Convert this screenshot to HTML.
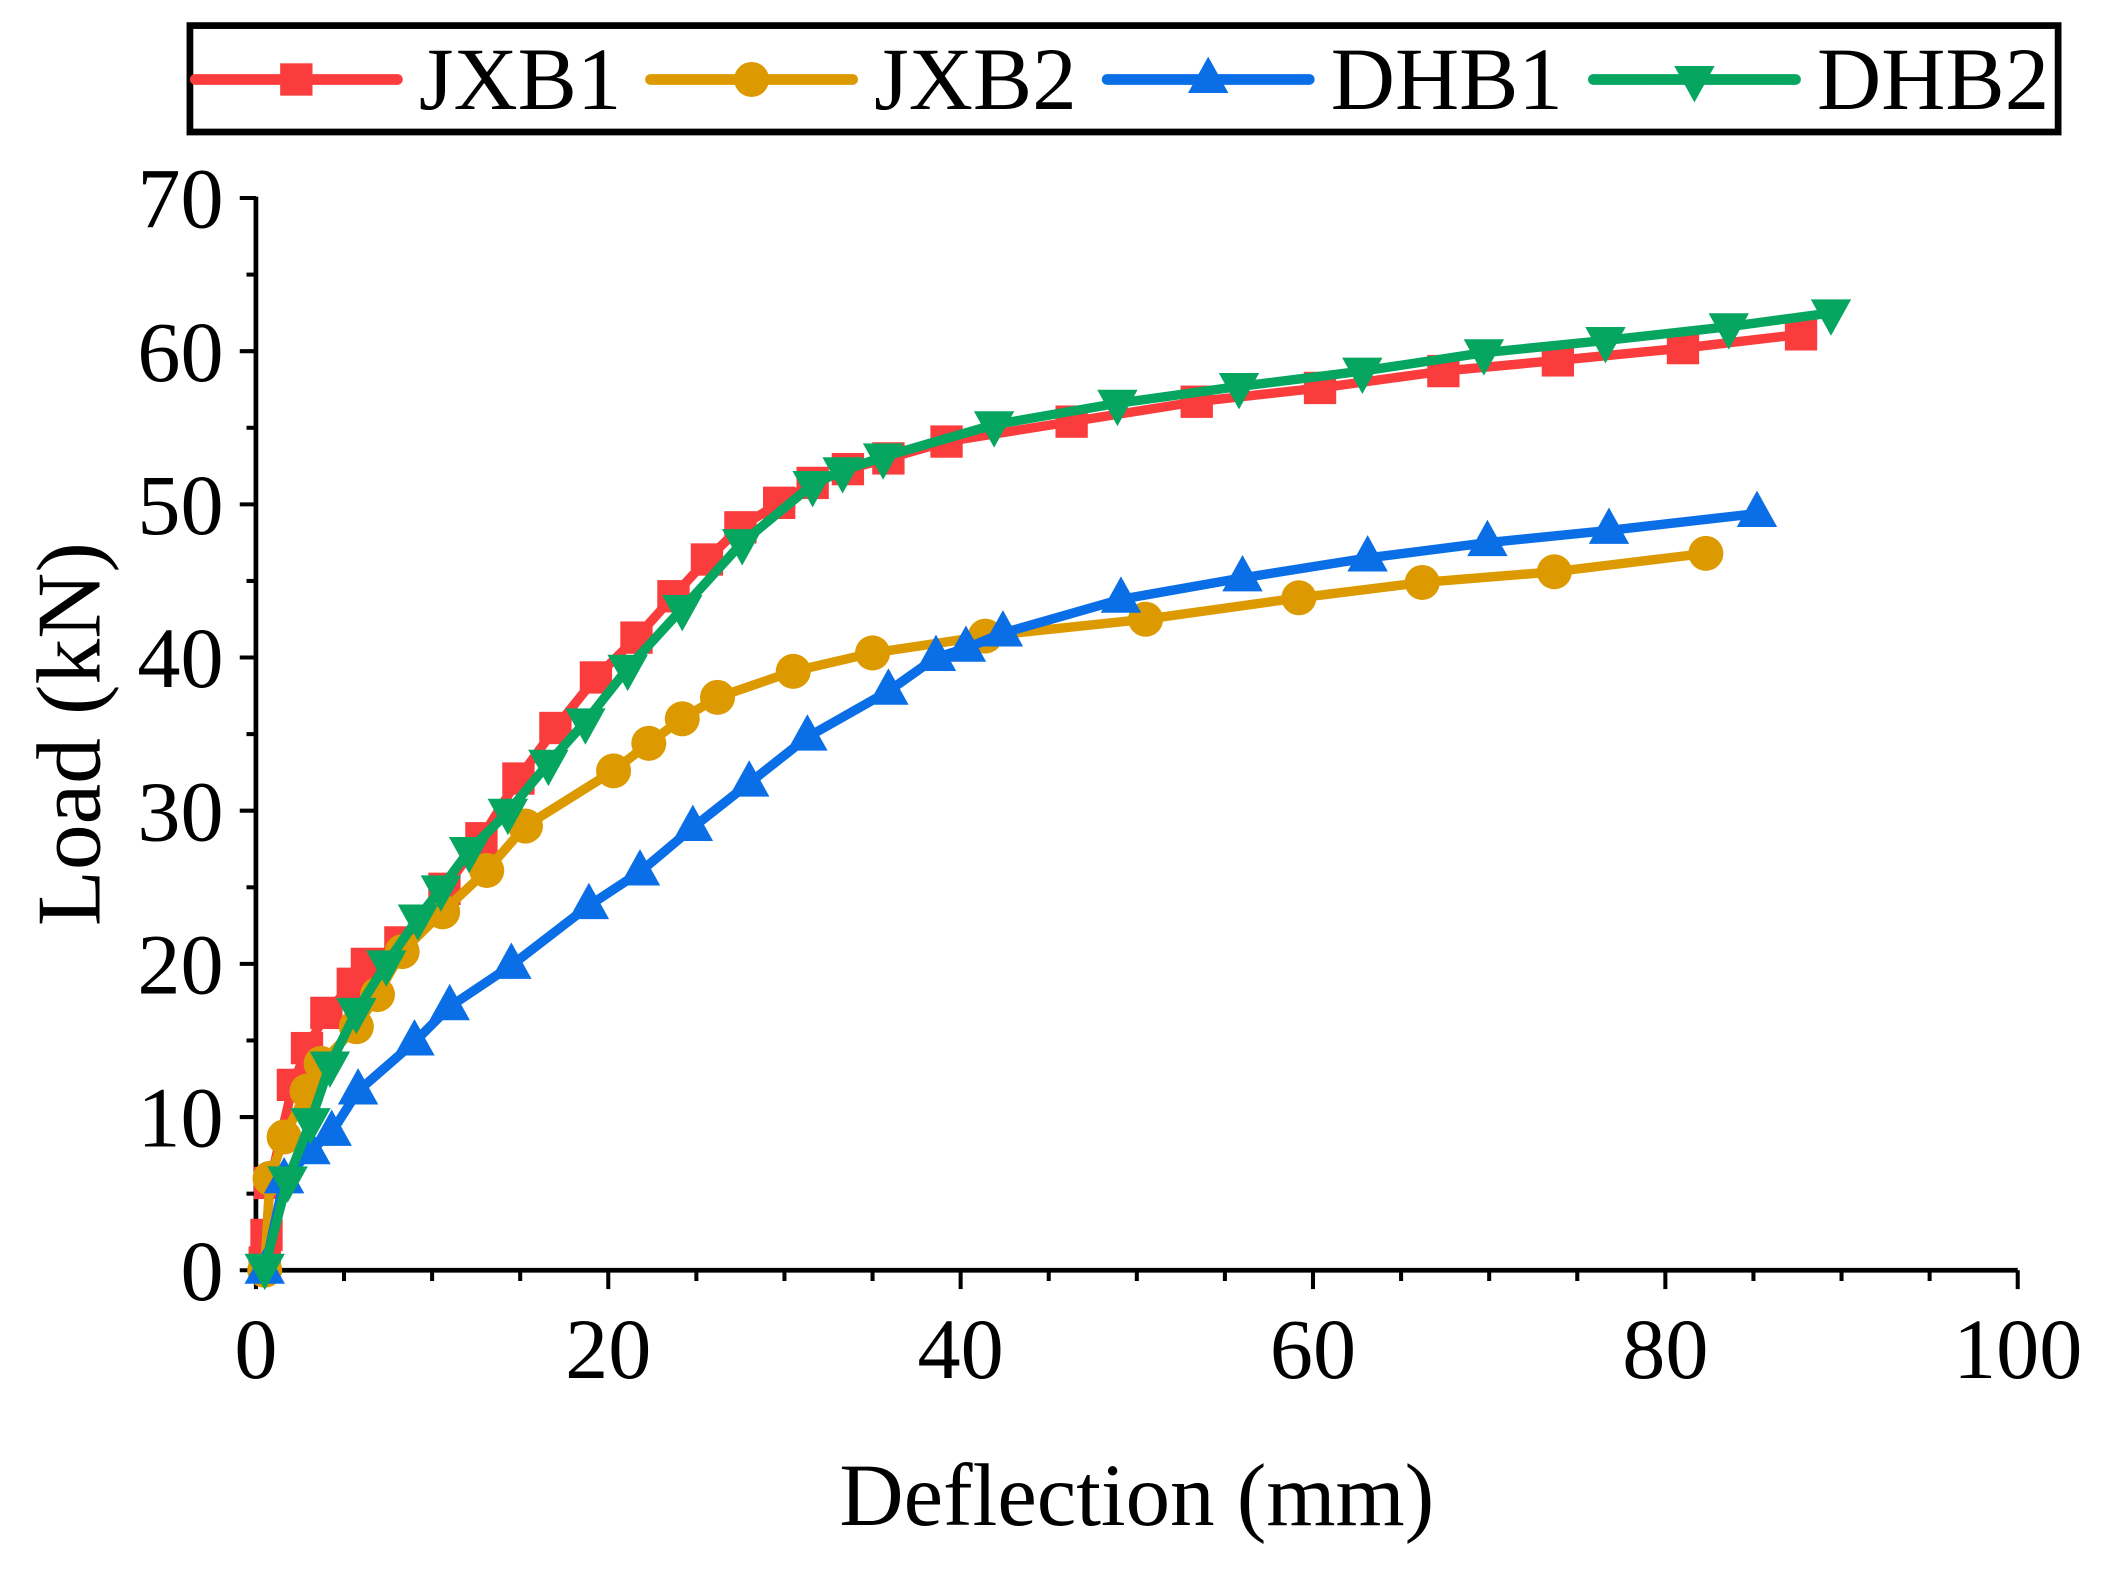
<!DOCTYPE html>
<html><head><meta charset="utf-8"><style>
html,body{margin:0;padding:0;background:#fff;}
svg{display:block;}
text{font-family:"Liberation Serif",serif;fill:#000;}
</style></head><body>
<svg id="chart" width="2112" height="1576" viewBox="0 0 1568 1170" preserveAspectRatio="none" xmlns="http://www.w3.org/2000/svg">
<g id="axes"></g>
<g id="series"></g>
<g id="legend">
  <rect x="141" y="19" width="1387" height="79" fill="#fff" stroke="#000" stroke-width="5"/>
</g>
<text x="844" y="1132" font-size="66" text-anchor="middle">Deflection (mm)</text>
<text transform="translate(74,545) rotate(-90)" font-size="68" text-anchor="middle">Load (kN)</text>
</svg>
<script>
const xTicks = [0,20,40,60,80,100];
const yTicks = [0,10,20,30,40,50,60,70];
const seriesNames = ["JXB1","JXB2","DHB1","DHB2"];
const jxb1X = [0.5,0.6,0.8,2.1,2.9,4.0,5.5,6.3,8.2,10.7,12.8,14.9,17.0,19.3,21.6,23.7,25.6,27.5,29.7,31.6,33.6,35.9,39.2,46.3,53.4,60.4,67.4,73.9,81.0,87.7];
const jxb1Y = [0.5,2.3,5.7,12.1,14.5,16.8,18.7,20.0,21.4,24.9,28.2,32.1,35.4,38.7,41.3,44.0,46.4,48.5,50.1,51.4,52.3,53.0,54.1,55.4,56.7,57.6,58.7,59.4,60.2,61.1];
const jxb2X = [0.5,0.8,1.6,2.9,3.7,5.7,6.9,8.3,10.6,13.1,15.3,20.3,22.3,24.2,26.2,30.5,35.0,41.4,50.5,59.2,66.2,73.7,82.3];
const jxb2Y = [0.0,6.0,8.7,11.7,13.5,15.9,18.0,20.8,23.4,26.1,29.0,32.6,34.4,36.0,37.4,39.1,40.3,41.4,42.5,43.9,44.9,45.6,46.8];
const dhb1X = [0.5,1.6,3.1,4.3,5.8,9.0,11.0,14.5,18.9,21.8,24.8,28.0,31.3,35.9,38.6,40.3,42.4,49.1,56.0,63.1,69.9,76.8,85.2];
const dhb1Y = [0.0,5.9,7.8,9.0,11.7,14.9,17.2,19.9,23.8,26.0,28.9,31.8,34.8,37.8,40.0,40.6,41.6,43.8,45.2,46.5,47.5,48.3,49.4];
const dhb2X = [0.5,1.8,3.1,4.2,5.7,7.4,9.2,10.5,12.1,14.3,16.6,18.7,21.1,24.2,27.6,31.6,33.3,35.6,41.9,48.9,55.8,62.8,69.7,76.6,83.6,89.4];
const dhb2Y = [0.2,5.9,9.7,13.4,16.9,20.0,23.0,24.9,27.4,29.9,33.1,35.8,39.3,43.2,47.5,51.3,52.2,53.1,55.2,56.6,57.7,58.7,59.9,60.7,61.6,62.5];

const NS="http://www.w3.org/2000/svg";
const X0=190,X1=1498,Y0=943,Y1=147;
function sx(v){return X0+(v-0)/(100-0)*(X1-X0);}
function sy(v){return Y0-(v-0)/(70-0)*(Y0-Y1);}
function mk(tag,attrs,parent){const e=document.createElementNS(NS,tag);for(const k in attrs)e.setAttribute(k,attrs[k]);parent.appendChild(e);return e;}
const axes=document.getElementById('axes');
const ser=document.getElementById('series');

const yAxis=mk('line',{x1:X0,y1:Y0,x2:X0,y2:Y1-1,stroke:'#000','stroke-width':3.5},axes);


const xAxis=mk('line',{x1:X0-2,y1:Y0,x2:X1,y2:Y0,stroke:'#000','stroke-width':3.5},axes);



yTicks.forEach((v,i)=>{
  const y=sy(v);
  const t=mk('line',{x1:X0-12,y1:y,x2:X0,y2:y,stroke:'#000','stroke-width':3},axes);
  
  
  const l=mk('text',{x:X0-24,y:y+22,'font-size':64,'text-anchor':'end'},axes);
  l.textContent=v;
  
  
  if(i<yTicks.length-1){
    const m=mk('line',{x1:X0-7,y1:sy(v+5),x2:X0,y2:sy(v+5),stroke:'#000','stroke-width':3},axes);
    
    
  }
});
xTicks.forEach((v,i)=>{
  const x=sx(v);
  const t=mk('line',{x1:x,y1:Y0,x2:x,y2:Y0+14,stroke:'#000','stroke-width':3},axes);
  
  
  const l=mk('text',{x:x,y:Y0+80,'font-size':64,'text-anchor':'middle'},axes);
  l.textContent=v;
  
  
  if(i<xTicks.length-1){
    for(let k=1;k<4;k++){
      const m=mk('line',{x1:sx(v+5*k),y1:Y0,x2:sx(v+5*k),y2:Y0+8,stroke:'#000','stroke-width':3},axes);
      
      
    }
  }
});

function marker(type,x,y,color,parent){
  let e;
  if(type==='square') e=mk('rect',{x:x-12,y:y-12,width:24,height:24,fill:color},parent);
  else if(type==='circle') e=mk('circle',{cx:x,cy:y,r:13,fill:color},parent);
  else if(type==='up') e=mk('polygon',{points:`${x},${y-17} ${x-15},${y+10} ${x+15},${y+10}`,fill:color},parent);
  else e=mk('polygon',{points:`${x},${y+17} ${x-15},${y-10} ${x+15},${y-10}`,fill:color},parent);
  return e;
}
const defs=[
  {name:'jxb1',xs:jxb1X,ys:jxb1Y,color:'#fa3c3c',m:'square'},
  {name:'jxb2',xs:jxb2X,ys:jxb2Y,color:'#dc9a00',m:'circle'},
  {name:'dhb1',xs:dhb1X,ys:dhb1Y,color:'#0a6ee6',m:'up'},
  {name:'dhb2',xs:dhb2X,ys:dhb2Y,color:'#06a560',m:'down'}
];
defs.forEach(d=>{
  const g=mk('g',{},ser);
  
  
  const pts=d.xs.map((x,i)=>sx(x)+','+sy(d.ys[i])).join(' ');
  const pl=mk('polyline',{points:pts,fill:'none',stroke:d.color,'stroke-width':7,'stroke-linejoin':'round','stroke-linecap':'round'},g);
  
  
  d.xs.forEach((x,i)=>{
    const e=marker(d.m,sx(x),sy(d.ys[i]),d.color,g);
    
    
  });
});

// legend
const leg=document.getElementById('legend');
const legX=[145,483,822,1183];
defs.forEach((d,i)=>{
  const x=legX[i];
  const g=mk('g',{},leg);
  
  
  mk('line',{x1:x,y1:59,x2:x+150,y2:59,stroke:d.color,'stroke-width':8,'stroke-linecap':'round'},g);
  marker(d.m,x+75,59,d.color,g);
  const t=mk('text',{x:x+166,y:81,'font-size':66},g);
  t.textContent=seriesNames[i];
});
</script>
</body></html>
